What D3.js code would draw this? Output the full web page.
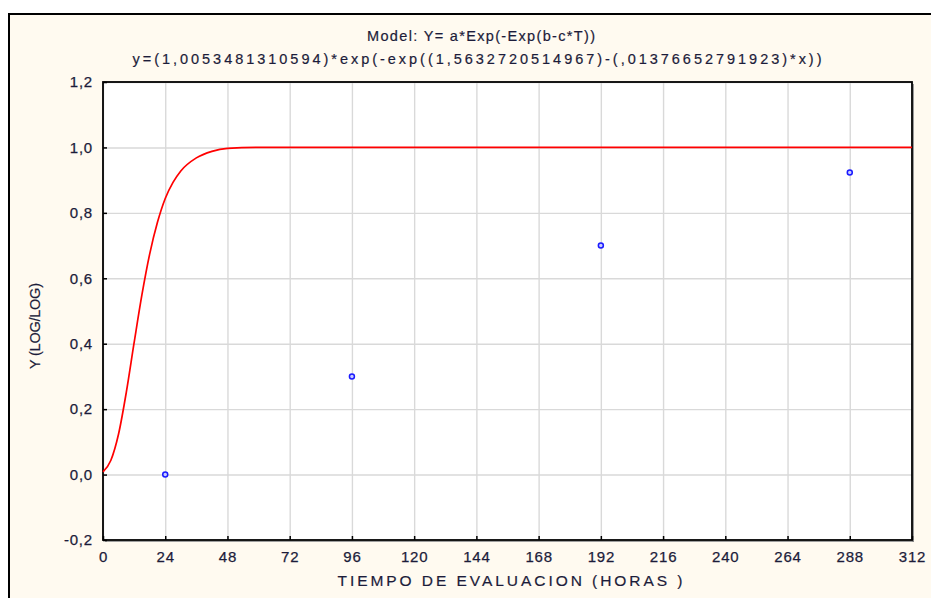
<!DOCTYPE html>
<html><head><meta charset="utf-8">
<script src="https://cdn.jsdelivr.net/npm/d3@7"></script>
<style>
html,body{margin:0;padding:0;background:#fff;}
svg{display:block;}
text{font-family:"Liberation Sans",Arial,sans-serif;}
</style></head>
<body>
<svg id="chart" width="931" height="598"></svg>
<script>
// Data
const obsX = [24, 96, 192, 288];
const obsY = [0.0, 0.30, 0.70, 0.923];
const curveX = [0, 3, 6, 9, 12, 15, 18, 21, 24, 27, 30, 36, 42, 48, 60, 312];
const curveY = [0.008, 0.043, 0.124, 0.252, 0.403, 0.549, 0.674, 0.771, 0.844, 0.893, 0.928, 0.968, 0.988, 0.997, 1.0, 1.0];
const xTicks = [0, 24, 48, 72, 96, 120, 144, 168, 192, 216, 240, 264, 288, 312];
const yTicks = [-0.2, 0.0, 0.2, 0.4, 0.6, 0.8, 1.0, 1.2];
const title1 = "Model: Y= a*Exp(-Exp(b-c*T))";
const title2 = "y=(1,0053481310594)*exp(-exp((1,5632720514967)-(,01376652791923)*x))";
const xTitle = "TIEMPO DE EVALUACION (HORAS )";
const yTitle = "Y (LOG/LOG)";

const svg = d3.select("#chart");
const W = 931, H = 598;
const m = {l:103, t:82, r:912, b:540};
const txt = "#1c1c3a";

// outer panel
svg.append("rect").attr("x",9).attr("y",14).attr("width",W+10).attr("height",H+10)
  .attr("fill","#fffaf0").attr("stroke","#000").attr("stroke-width",2);

const x = d3.scaleLinear().domain([0,312]).range([m.l,m.r]);
const y = d3.scaleLinear().domain([-0.2,1.2]).range([m.b,m.t]);
const loc = d3.formatLocale({decimal:",", thousands:".", grouping:[3], currency:["",""], minus:"-"});
const fy = loc.format(".1f");

// plot area with shadow
svg.append("rect").attr("x",m.l+2).attr("y",m.t+2).attr("width",m.r-m.l).attr("height",m.b-m.t)
  .attr("fill","#8a8a8a");
svg.append("rect").attr("x",m.l).attr("y",m.t).attr("width",m.r-m.l).attr("height",m.b-m.t)
  .attr("fill","#fff");

// grid
const gx = svg.append("g").attr("transform",`translate(0,${m.b})`)
  .call(d3.axisBottom(x).tickValues(xTicks).tickSize(-(m.b-m.t)).tickFormat(""));
gx.select(".domain").remove();
gx.selectAll("line").attr("stroke","#d9d9d9").attr("stroke-width",1.4);
const gy = svg.append("g").attr("transform",`translate(${m.l},0)`)
  .call(d3.axisLeft(y).tickValues(yTicks).tickSize(-(m.r-m.l)).tickFormat(""));
gy.select(".domain").remove();
gy.selectAll("line").attr("stroke","#d9d9d9").attr("stroke-width",1.4);

// frame
svg.append("rect").attr("x",m.l).attr("y",m.t).attr("width",m.r-m.l).attr("height",m.b-m.t)
  .attr("fill","none").attr("stroke","#000").attr("stroke-width",1.8);

// axes with inward ticks
const ax = svg.append("g").attr("transform",`translate(0,${m.b})`)
  .call(d3.axisBottom(x).tickValues(xTicks).tickSizeInner(-4).tickSizeOuter(0).tickPadding(11));
ax.select(".domain").remove();
ax.selectAll("line").attr("stroke","#000").attr("stroke-width",1.5);
ax.selectAll("text").attr("font-size",15).attr("fill",txt).attr("letter-spacing","0.8px")
  .attr("stroke",txt).attr("stroke-width",0.25);

const ay = svg.append("g").attr("transform",`translate(${m.l},0)`)
  .call(d3.axisLeft(y).tickValues(yTicks).tickFormat(fy).tickSizeInner(-4).tickSizeOuter(0).tickPadding(10));
ay.select(".domain").remove();
ay.selectAll("line").attr("stroke","#000").attr("stroke-width",1.5);
ay.selectAll("text").attr("font-size",15).attr("fill",txt).attr("letter-spacing","0.8px")
  .attr("stroke",txt).attr("stroke-width",0.25);

// curve
const line = d3.line().x(d=>x(d[0])).y(d=>y(d[1])).curve(d3.curveMonotoneX);
svg.append("path").datum(curveX.map((v,i)=>[v,curveY[i]]))
  .attr("d",line).attr("fill","none").attr("stroke","#ff0000").attr("stroke-width",1.7);

// points
svg.append("g").selectAll("circle").data(obsX.map((v,i)=>[v,obsY[i]])).join("circle")
  .attr("cx",d=>x(d[0])).attr("cy",d=>y(d[1])).attr("r",2.5)
  .attr("fill","#c8ccff").attr("stroke","#1a1aff").attr("stroke-width",1.5);

// titles
function t(xp, yp, len, s, fs, rot){
  const e = svg.append("text").attr("text-anchor","middle")
    .attr("font-size",fs).attr("fill",txt).attr("stroke",txt).attr("stroke-width",0.2)
    .attr("textLength",len).attr("lengthAdjust","spacing").text(s);
  if (rot) e.attr("transform",`translate(${xp},${yp}) rotate(-90)`);
  else e.attr("x",xp).attr("y",yp);
}
t(481, 41, 228, title1, 14.5);
t(477, 64, 689, title2, 14.5);
t(510, 586, 345, xTitle, 15.5);
t(40, 326, 86, yTitle, 14.5, true);
</script>
</body></html>
